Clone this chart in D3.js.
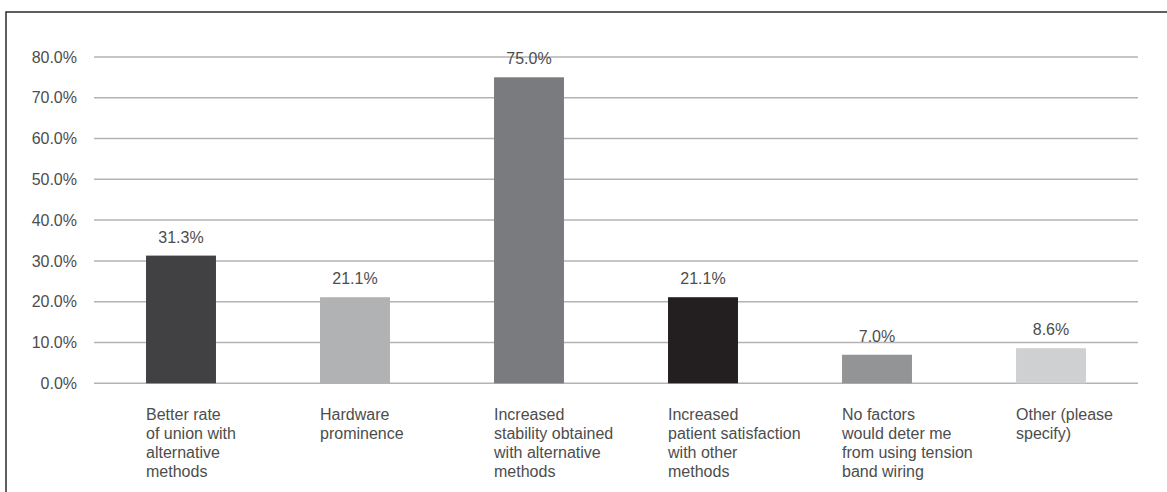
<!DOCTYPE html>
<html lang="en">
<head>
  <meta charset="UTF-8">
  <title>Factors bar chart</title>
  <script src="https://d3js.org/d3.v7.min.js"></script>
  <style>
    body {
      margin: 0;
      background: #fff;
      font-family: 'Liberation Sans', Arial, sans-serif;
    }
    .grid line {
      stroke: #b3b3b3;
      stroke-width: 1.5px;
    }
    .tick-label, .value-label, .cat-label {
      fill: #4d4d4d;
      font-size: 16px;
    }
  </style>
</head>
<body>
  <svg id="chart"></svg>

  <script>
    // chart data
    const categories = ["better", "hardware", "stability", "satisfaction", "nofactors", "other"];
    const categoryLines = [
      ["Better rate", "of union with", "alternative", "methods"],
      ["Hardware", "prominence"],
      ["Increased", "stability obtained", "with alternative", "methods"],
      ["Increased", "patient satisfaction", "with other", "methods"],
      ["No factors", "would deter me", "from using tension", "band wiring"],
      ["Other (please", "specify)"]
    ];
    const values = [31.3, 21.1, 75.0, 21.1, 7.0, 8.6];
    const barColors = ["#414143", "#b1b2b4", "#7a7b7e", "#231f20", "#939496", "#cfd0d1"];
    const yTicks = [0, 10, 20, 30, 40, 50, 60, 70, 80];

    const width = 1167, height = 492;

    const svg = d3.select("#chart")
      .attr("width", width)
      .attr("height", height);

    // outer frame (right/bottom run off the picture)
    svg.append("rect")
      .attr("x", 6)
      .attr("y", 12)
      .attr("width", 1200)
      .attr("height", 600)
      .attr("fill", "none")
      .attr("stroke", "#2b2b2b")
      .attr("stroke-width", 1.5);

    const x = d3.scaleBand()
      .domain(categories)
      .range([94, 1138])
      .paddingInner(0.598)
      .paddingOuter(0.299);

    const y = d3.scaleLinear()
      .domain([0, 80])
      .range([383.3, 56.9]);

    // gridlines
    svg.append("g")
      .attr("class", "grid")
      .selectAll("line")
      .data(yTicks)
      .enter().append("line")
      .attr("x1", 94)
      .attr("x2", 1138)
      .attr("y1", d => y(d))
      .attr("y2", d => y(d));

    // y tick labels
    svg.append("g")
      .selectAll("text")
      .data(yTicks)
      .enter().append("text")
      .attr("class", "tick-label")
      .attr("x", 77)
      .attr("y", d => y(d))
      .attr("dy", "0.35em")
      .attr("text-anchor", "end")
      .text(d => d3.format(".1f")(d) + "%");

    // bars
    svg.append("g")
      .selectAll("rect")
      .data(values)
      .enter().append("rect")
      .attr("x", (d, i) => x(categories[i]))
      .attr("y", d => y(d))
      .attr("width", x.bandwidth())
      .attr("height", d => y(0) - y(d))
      .attr("fill", (d, i) => barColors[i]);

    // value labels
    svg.append("g")
      .selectAll("text")
      .data(values)
      .enter().append("text")
      .attr("class", "value-label")
      .attr("x", (d, i) => x(categories[i]) + x.bandwidth() / 2)
      .attr("y", d => y(d) - 13)
      .attr("text-anchor", "middle")
      .text(d => d.toFixed(1) + "%");

    // category labels, left aligned under each bar
    categories.forEach((c, i) => {
      const t = svg.append("text")
        .attr("class", "cat-label")
        .attr("x", x(c))
        .attr("y", 420);
      categoryLines[i].forEach((line, j) => {
        t.append("tspan")
          .attr("x", x(c))
          .attr("dy", j === 0 ? 0 : 18.9)
          .text(line);
      });
    });
  </script>
</body>
</html>
